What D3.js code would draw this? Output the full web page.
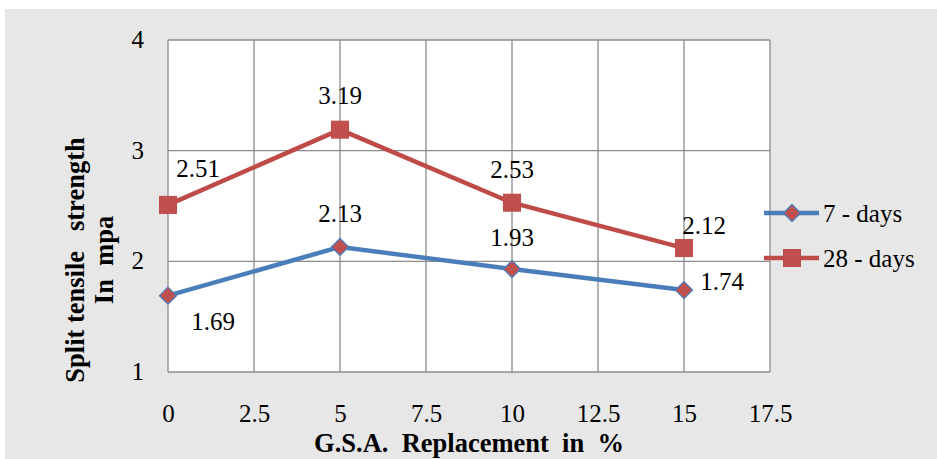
<!DOCTYPE html>
<html>
<head>
<meta charset="utf-8">
<script src="https://cdn.jsdelivr.net/npm/d3@7"></script>
<style>
  html, body { margin: 0; padding: 0; background: #ffffff; }
  svg { display: block; font-family: "Liberation Serif", "Times New Roman", serif; }
</style>
</head>
<body>
<svg id="chart" width="937" height="459"></svg>
<script>
// Split tensile strength vs. G.S.A. replacement
const replacement = [0, 5, 10, 15];
const days7 = [1.69, 2.13, 1.93, 1.74];
const days28 = [2.51, 3.19, 2.53, 2.12];
const xTicks = [0, 2.5, 5, 7.5, 10, 12.5, 15, 17.5];
const yTicks = [1, 2, 3, 4];
const seriesNames = ["7 - days", "28 - days"];

const svg = d3.select("#chart");
const W = 937, H = 459;
const FS = 25;      // tick, data-label and legend text
const FT = 26.5;    // bold axis titles

svg.append("rect").attr("x", 0).attr("y", 0).attr("width", W).attr("height", H).attr("fill", "#ffffff");
svg.append("rect").attr("x", 5).attr("y", 9).attr("width", W - 5).attr("height", H - 9).attr("fill", "#e7e7e7");

const plot = { left: 168, right: 770, top: 40, bottom: 372 };
const x = d3.scaleLinear().domain([0, 17.5]).range([plot.left, plot.right]);
const y = d3.scaleLinear().domain([1, 4]).range([plot.bottom, plot.top]);

svg.append("rect")
  .attr("x", plot.left).attr("y", plot.top)
  .attr("width", plot.right - plot.left).attr("height", plot.bottom - plot.top)
  .attr("fill", "#ffffff");

// gridlines
const grid = svg.append("g").attr("stroke", "#8c8c8c").attr("stroke-width", 1.3);
xTicks.forEach(t => grid.append("line")
  .attr("x1", x(t)).attr("x2", x(t)).attr("y1", plot.top).attr("y2", plot.bottom));
yTicks.forEach(t => grid.append("line")
  .attr("x1", plot.left).attr("x2", plot.right).attr("y1", y(t)).attr("y2", y(t)));

// axes (labels only)
const xAxis = svg.append("g").attr("transform", `translate(0,${plot.bottom})`)
  .call(d3.axisBottom(x).tickValues(xTicks).tickSize(0).tickPadding(0).tickFormat(d3.format("")));
xAxis.select(".domain").remove();
xAxis.selectAll("text").attr("font-size", FS).attr("font-family", "Liberation Serif").attr("fill", "#000")
  .attr("y", 50).attr("dy", 0);

const yAxis = svg.append("g").attr("transform", `translate(${plot.left},0)`)
  .call(d3.axisLeft(y).tickValues(yTicks).tickSize(0).tickPadding(24).tickFormat(d3.format("d")));
yAxis.select(".domain").remove();
yAxis.selectAll("text").attr("font-size", FS).attr("font-family", "Liberation Serif").attr("fill", "#000")
  .attr("dy", "0.3em");

// axis titles
svg.append("text")
  .attr("x", 469).attr("y", 452)
  .attr("text-anchor", "middle").attr("font-size", FT).attr("font-weight", "bold")
  .style("white-space", "pre")
  .text("G.S.A.  Replacement  in  %");

const yt = svg.append("g").attr("transform", "translate(84,260) rotate(-90)");
yt.append("text").attr("x", 0).attr("y", 0)
  .attr("text-anchor", "middle").attr("font-size", FT).attr("font-weight", "bold")
  .style("white-space", "pre").text("Split tensile   strength");
yt.append("text").attr("x", 0).attr("y", 29)
  .attr("text-anchor", "middle").attr("font-size", FT).attr("font-weight", "bold")
  .style("white-space", "pre").text("In  mpa");

const blue = "#4a7ebb", red = "#be4b48", redFill = "#c0504d";
const line = d3.line().x((d, i) => x(replacement[i])).y(d => y(d));

// 7 days
svg.append("path").datum(days7).attr("d", line)
  .attr("fill", "none").attr("stroke", blue).attr("stroke-width", 4.5).attr("stroke-linejoin", "round");
svg.selectAll(".m7").data(days7).enter().append("path")
  .attr("transform", (d, i) => `translate(${x(replacement[i])},${y(d)})`)
  .attr("d", "M0,-8.5 L8.5,0 L0,8.5 L-8.5,0 Z")
  .attr("fill", redFill).attr("stroke", blue).attr("stroke-width", 1.3);

// 28 days
svg.append("path").datum(days28).attr("d", line)
  .attr("fill", "none").attr("stroke", red).attr("stroke-width", 4.5).attr("stroke-linejoin", "round");
svg.selectAll(".m28").data(days28).enter().append("rect")
  .attr("x", (d, i) => x(replacement[i]) - 8.5).attr("y", d => y(d) - 8.5)
  .attr("width", 17).attr("height", 17)
  .attr("fill", redFill).attr("stroke", red).attr("stroke-width", 1);

// data labels: [dx of centre, dy of baseline] relative to each point
const off7 = [[45, 34], [0, -25], [0, -23], [38, 0]];
const off28 = [[30, -28], [0, -26], [0, -25], [20, -14]];
svg.selectAll(".l7").data(days7).enter().append("text")
  .attr("x", (d, i) => x(replacement[i]) + off7[i][0])
  .attr("y", (d, i) => y(d) + off7[i][1])
  .attr("text-anchor", "middle").attr("font-size", FS)
  .text(d => d3.format(".2f")(d));
svg.selectAll(".l28").data(days28).enter().append("text")
  .attr("x", (d, i) => x(replacement[i]) + off28[i][0])
  .attr("y", (d, i) => y(d) + off28[i][1])
  .attr("text-anchor", "middle").attr("font-size", FS)
  .text(d => d3.format(".2f")(d));

// legend
const legend = svg.append("g");
const lgY = [213, 258];
legend.append("line").attr("x1", 764).attr("x2", 819).attr("y1", lgY[0]).attr("y2", lgY[0])
  .attr("stroke", blue).attr("stroke-width", 4.5);
legend.append("path").attr("transform", `translate(792,${lgY[0]})`)
  .attr("d", "M0,-8.5 L8.5,0 L0,8.5 L-8.5,0 Z").attr("fill", redFill).attr("stroke", blue).attr("stroke-width", 1.3);
legend.append("line").attr("x1", 764).attr("x2", 819).attr("y1", lgY[1]).attr("y2", lgY[1])
  .attr("stroke", red).attr("stroke-width", 4.5);
legend.append("rect").attr("x", 792 - 8.5).attr("y", lgY[1] - 8.5).attr("width", 17).attr("height", 17)
  .attr("fill", redFill).attr("stroke", red).attr("stroke-width", 1);
seriesNames.forEach((n, i) => legend.append("text")
  .attr("x", 823).attr("y", lgY[i] + 9).attr("font-size", FS).text(n));
</script>
</body>
</html>
